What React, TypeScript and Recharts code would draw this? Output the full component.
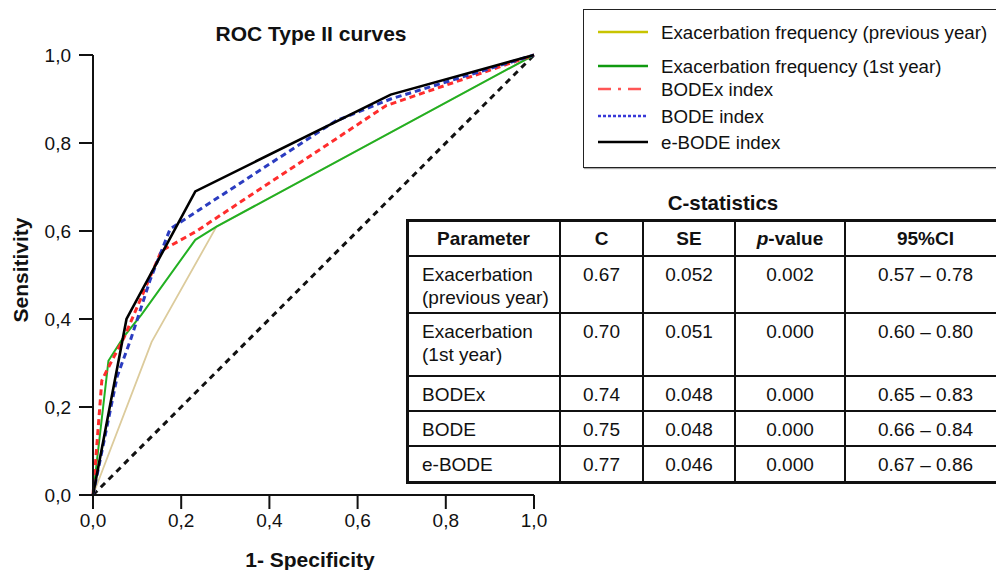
import React from 'react';
import { LineChart, Line, XAxis, YAxis } from 'recharts';

// ---------- DATA ----------
const axisTicks = [0, 0.2, 0.4, 0.6, 0.8, 1.0];

const diagonal = [
  { x: 0, y: 0 },
  { x: 1, y: 1 },
];
const exacPrevYear = [
  { x: 0, y: 0 },
  { x: 0.133, y: 0.348 },
  { x: 0.28, y: 0.61 },
  { x: 1, y: 1 },
];
const exac1stYear = [
  { x: 0, y: 0 },
  { x: 0.035, y: 0.305 },
  { x: 0.07, y: 0.36 },
  { x: 0.11, y: 0.41 },
  { x: 0.232, y: 0.58 },
  { x: 0.28, y: 0.61 },
  { x: 1, y: 1 },
];
const bodexIndex = [
  { x: 0, y: 0 },
  { x: 0.02, y: 0.26 },
  { x: 0.04, y: 0.3 },
  { x: 0.07, y: 0.357 },
  { x: 0.155, y: 0.555 },
  { x: 0.232, y: 0.598 },
  { x: 0.665, y: 0.885 },
  { x: 1, y: 1 },
];
const bodeIndex = [
  { x: 0, y: 0 },
  { x: 0.055, y: 0.27 },
  { x: 0.085, y: 0.352 },
  { x: 0.13, y: 0.49 },
  { x: 0.175, y: 0.605 },
  { x: 0.55, y: 0.85 },
  { x: 0.675, y: 0.9 },
  { x: 1, y: 1 },
];
const eBodeIndex = [
  { x: 0, y: 0 },
  { x: 0.076, y: 0.4 },
  { x: 0.232, y: 0.69 },
  { x: 0.675, y: 0.91 },
  { x: 1, y: 1 },
];

const legendLabels = [
  'Exacerbation frequency (previous year)',
  'Exacerbation frequency (1st year)',
  'BODEx index',
  'BODE index',
  'e-BODE index',
];

const tableHeaders = ['Parameter', 'C', 'SE', 'p-value', '95%CI'];
const tableParams = [
  ['Exacerbation', '(previous year)'],
  ['Exacerbation', '(1st year)'],
  ['BODEx'],
  ['BODE'],
  ['e-BODE'],
];
const tableC = ['0.67', '0.70', '0.74', '0.75', '0.77'];
const tableSE = ['0.052', '0.051', '0.048', '0.048', '0.046'];
const tableP = ['0.002', '0.000', '0.000', '0.000', '0.000'];
const tableCI = ['0.57 – 0.78', '0.60 – 0.80', '0.65 – 0.83', '0.66 – 0.84', '0.67 – 0.86'];

// ---------- STYLE / LAYOUT ----------
const FONT = '"Liberation Sans", Arial, Helvetica, sans-serif';
const fmt = (v: number) => v.toFixed(1).replace('.', ',');

const legendStyles = [
  { stroke: '#c8c400', dash: undefined, w: 2.5 },
  { stroke: '#109a10', dash: undefined, w: 2.5 },
  { stroke: '#ff5555', dash: '13 7 3 7', w: 2.5 },
  { stroke: '#3838d8', dash: '3 2', w: 2.5 },
  { stroke: '#000000', dash: undefined, w: 2.5 },
];
const legendRowY = [32, 66, 89, 116, 142];

const colX = [407, 560, 643, 735, 845, 1006];
const rowY = [220, 256, 313, 376, 411, 446, 482];
const TABLE_FS = 19;

export default function App() {
  const rows = tableParams.map((p, i) => [p, [tableC[i]], [tableSE[i]], [tableP[i]], [tableCI[i]]]);
  return (
    <div
      style={{
        position: 'absolute',
        left: 0,
        top: 0,
        width: 996,
        height: 570,
        background: '#fff',
        overflow: 'hidden',
        fontFamily: FONT,
      }}
    >
      <LineChart
        width={996}
        height={570}
        margin={{ top: 55, right: 462, bottom: 35, left: 0 }}
        style={{ fontFamily: FONT }}
      >
        <XAxis
          type="number"
          dataKey="x"
          domain={[0, 1]}
          ticks={axisTicks}
          tickFormatter={fmt}
          height={40}
          tickSize={14}
          tickMargin={5}
          axisLine={{ stroke: '#111', strokeWidth: 2 }}
          tickLine={{ stroke: '#111', strokeWidth: 2 }}
          tick={{ fill: '#111', fontSize: 19 }}
          interval={0}
        />
        <YAxis
          type="number"
          dataKey="y"
          domain={[0, 1]}
          ticks={axisTicks}
          tickFormatter={fmt}
          width={93}
          tickSize={14}
          tickMargin={8}
          axisLine={{ stroke: '#111', strokeWidth: 2 }}
          tickLine={{ stroke: '#111', strokeWidth: 2 }}
          tick={{ fill: '#111', fontSize: 19 }}
          interval={0}
        />
        <Line data={diagonal} dataKey="y" type="linear" stroke="#111" strokeWidth={3} strokeDasharray="6 5" dot={false} isAnimationActive={false} />
        <Line data={exacPrevYear} dataKey="y" type="linear" stroke="#dccb9c" strokeWidth={1.8} dot={false} isAnimationActive={false} />
        <Line data={exac1stYear} dataKey="y" type="linear" stroke="#22b022" strokeWidth={2} dot={false} isAnimationActive={false} />
        <Line data={bodexIndex} dataKey="y" type="linear" stroke="#ff2d2d" strokeWidth={3} strokeDasharray="6 4" dot={false} isAnimationActive={false} />
        <Line data={bodeIndex} dataKey="y" type="linear" stroke="#2b3cc0" strokeWidth={3} strokeDasharray="6 4" dot={false} isAnimationActive={false} />
        <Line data={eBodeIndex} dataKey="y" type="linear" stroke="#000" strokeWidth={2.6} dot={false} isAnimationActive={false} />
      </LineChart>

      {/* Legend box */}
      <div
        style={{
          position: 'absolute',
          left: 583,
          top: 9,
          width: 420,
          height: 157,
          border: '1.5px solid #222',
          boxShadow: '1px 1px 1px #aaa',
          background: '#fff',
        }}
      />

      {/* Titles, axis labels, legend entries */}
      <svg style={{ position: 'absolute', left: 0, top: 0 }} width={996} height={570}>
        <text x={311} y={33} textAnchor="middle" dominantBaseline="central" fontSize={21} fontWeight="bold" fill="#111" fontFamily={FONT}>
          ROC Type II curves
        </text>
        <text x={310} y={559} textAnchor="middle" dominantBaseline="central" fontSize={21} fontWeight="bold" fill="#111" fontFamily={FONT}>
          1- Specificity
        </text>
        <text
          x={0}
          y={0}
          transform="translate(20 270) rotate(-90)"
          textAnchor="middle"
          dominantBaseline="central"
          fontSize={21}
          fontWeight="bold"
          fill="#111"
          fontFamily={FONT}
        >
          Sensitivity
        </text>
        <text x={723} y={202} textAnchor="middle" dominantBaseline="central" fontSize={20.5} fontWeight="bold" fill="#111" fontFamily={FONT}>
          C-statistics
        </text>
        {legendLabels.map((lab, i) => (
          <g key={lab}>
            <line
              x1={598}
              x2={648}
              y1={legendRowY[i]}
              y2={legendRowY[i]}
              stroke={legendStyles[i].stroke}
              strokeWidth={legendStyles[i].w}
              strokeDasharray={legendStyles[i].dash}
            />
            <text x={661} y={legendRowY[i]} dominantBaseline="central" fontSize={18.7} fill="#111" fontFamily={FONT}>
              {lab}
            </text>
          </g>
        ))}
      </svg>

      {/* C-statistics table grid */}
      {rowY.map((y, i) => {
        const outer = i === 0 || i === rowY.length - 1;
        const t = outer ? 3 : 1.5;
        return (
          <div
            key={'r' + i}
            style={{ position: 'absolute', left: colX[0] - 1.5, top: y - t / 2, width: 700, height: t, background: '#111' }}
          />
        );
      })}
      {colX.slice(0, 5).map((x, i) => {
        const t = i === 0 ? 3 : 1.5;
        return (
          <div
            key={'c' + i}
            style={{ position: 'absolute', left: x - t / 2, top: rowY[0], width: t, height: rowY[6] - rowY[0], background: '#111' }}
          />
        );
      })}
      {/* header */}
      {tableHeaders.map((h, j) => (
        <div
          key={'h' + j}
          style={{
            position: 'absolute',
            left: colX[j],
            top: rowY[0] + 7,
            width: colX[j + 1] - colX[j],
            textAlign: 'center',
            fontSize: TABLE_FS,
            fontWeight: 'bold',
            lineHeight: '23px',
            color: '#111',
            whiteSpace: 'nowrap',
          }}
        >
          {h === 'p-value' ? (
            <span>
              <i>p</i>-value
            </span>
          ) : (
            h
          )}
        </div>
      ))}
      {rows.map((row, i) =>
        row.map((cell, j) => (
          <div
            key={'d' + i + '-' + j}
            style={{
              position: 'absolute',
              left: j === 0 ? colX[0] + 15 : colX[j],
              top: rowY[i + 1] + 7,
              width: j === 0 ? 150 : colX[j + 1] - colX[j],
              textAlign: j === 0 ? 'left' : 'center',
              fontSize: TABLE_FS,
              lineHeight: '23px',
              color: '#111',
              whiteSpace: 'nowrap',
            }}
          >
            {cell.map((line, k) => (
              <div key={k}>{line}</div>
            ))}
          </div>
        ))
      )}
    </div>
  );
}
